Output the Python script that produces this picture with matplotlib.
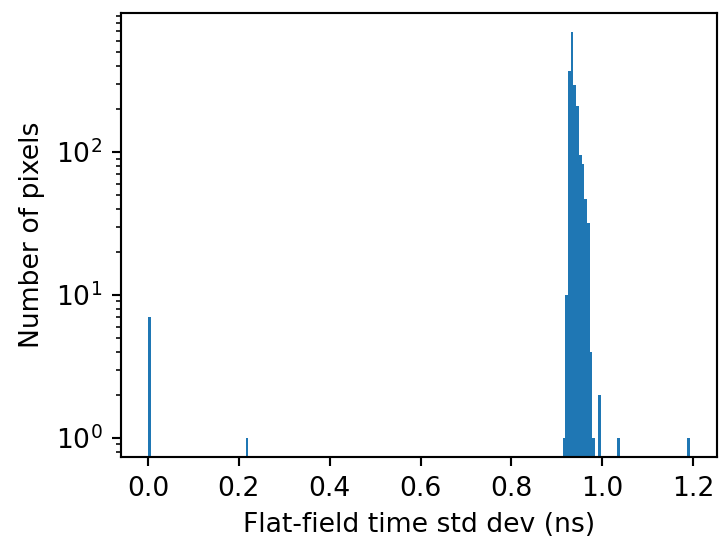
import numpy as np
import matplotlib
matplotlib.use("Agg")
import matplotlib.pyplot as plt

# Histogram of flat-field time std dev (200 bins from 0 to ~1.193 ns)
n_bins = 200
x_min = 0.0
x_max = 1.193
bin_index = [0, 36, 153, 154, 155, 156, 157, 158, 159, 160, 161, 162, 163, 164, 166, 173, 199]
counts = [7, 1, 1, 10, 368, 691, 293, 210, 95, 82, 47, 32, 4, 1, 2, 1, 1]

edges = np.linspace(x_min, x_max, n_bins + 1)
centers = 0.5 * (edges[:-1] + edges[1:])
values = centers[bin_index]

dpi = 192
fig, ax = plt.subplots(figsize=(720 / dpi, 537 / dpi), dpi=dpi)
ax.hist(values, bins=edges, weights=counts, color="#1f77b4")
ax.set_yscale("log")
ax.set_ylim(0.735, 940)
ax.set_xlabel("Flat-field time std dev (ns)")
ax.set_ylabel("Number of pixels")
fig.subplots_adjust(left=0.168, right=0.996, top=0.976, bottom=0.149)
fig.savefig("out.png", dpi=dpi)
